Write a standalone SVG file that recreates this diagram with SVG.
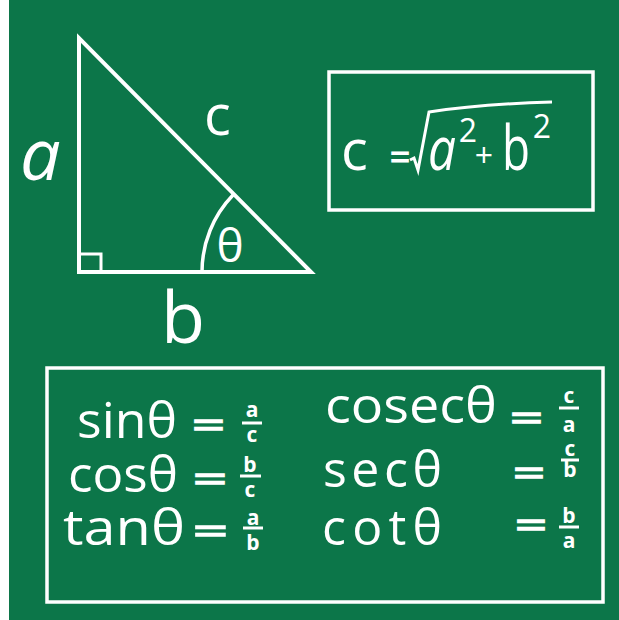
<svg xmlns="http://www.w3.org/2000/svg" width="619" height="620" viewBox="0 0 619 620">
<style>
.ln{fill:none;stroke:#fff;stroke-width:4;stroke-linejoin:miter;stroke-linecap:butt}
.bx{fill:none;stroke:#fff;stroke-width:3.5}
.t{fill:#fff;font-family:"Open Sans","Noto Sans",sans-serif}
.fr{fill:#fff;font-family:"Open Sans","Noto Sans",sans-serif;font-weight:bold;font-size:21px;text-anchor:middle}
.eq{fill:#fff;stroke:#fff;stroke-width:1.6;font-family:"Open Sans","Noto Sans",sans-serif;font-size:38px}
.bar{stroke:#fff;stroke-width:3}
</style>
<rect x="0" y="0" width="619" height="620" fill="#fff"/>
<rect x="9" y="0" width="610" height="620" fill="#0c7649"/>

<g id="triangle">
<polygon class="ln" points="79,38 79,272 311,272"/>
<polyline class="ln" points="80,254 101,254 101,272" style="stroke-width:3"/>
<path class="ln" d="M202,272 A111,111 0 0 1 233,195" style="stroke-width:3.5"/>
<text class="t" x="230" y="262" font-size="46" text-anchor="middle">θ</text>
<text class="t" x="20" y="180" font-size="72" font-style="italic">a</text>
<text class="t" x="204" y="135" font-size="56">c</text>
<text class="t" x="161" y="343" font-size="72">b</text>
</g>

<g id="formula-box">
<rect class="bx" x="329" y="72" width="264" height="138"/>
<text class="t" x="341" y="170" font-size="56">c</text>
<text class="t" x="400" y="170" font-size="36" text-anchor="middle" stroke="#fff" stroke-width="1">=</text>
<path class="ln" d="M410,160 L414,158 L418,170 L429,112 Q480,104 552,102" style="stroke-width:3"/>
<text class="t" x="428" y="170" font-size="60" font-style="italic" textLength="28" lengthAdjust="spacingAndGlyphs">a</text>
<text class="t" x="468" y="142" font-size="32" text-anchor="middle">2</text>
<text class="t" x="484" y="167" font-size="32" text-anchor="middle">+</text>
<text class="t" x="502" y="170" font-size="62" textLength="28" lengthAdjust="spacingAndGlyphs">b</text>
<text class="t" x="542" y="138" font-size="32" text-anchor="middle">2</text>
</g>

<g id="ratios-box">
<rect class="bx" x="47" y="368" width="556" height="234"/>

<text class="t" x="77" y="438" font-size="50" textLength="100" lengthAdjust="spacingAndGlyphs">sinθ</text>
<text class="eq" x="192" y="438" textLength="33" lengthAdjust="spacingAndGlyphs">=</text>
<text class="fr" x="252" y="417">a</text>
<line class="bar" x1="242" y1="423" x2="262" y2="423"/>
<text class="fr" x="252" y="442">c</text>

<text class="t" x="68" y="492" font-size="50" textLength="110" lengthAdjust="spacingAndGlyphs">cosθ</text>
<text class="eq" x="193" y="492" textLength="34" lengthAdjust="spacingAndGlyphs">=</text>
<text class="fr" x="250" y="472" font-size="19">b</text>
<line class="bar" x1="240" y1="476" x2="261" y2="476"/>
<text class="fr" x="250" y="497">c</text>

<text class="t" x="63" y="545" font-size="50" textLength="122" lengthAdjust="spacingAndGlyphs">tanθ</text>
<text class="eq" x="193" y="544" textLength="35" lengthAdjust="spacingAndGlyphs">=</text>
<text class="fr" x="253" y="525">a</text>
<line class="bar" x1="243" y1="528" x2="263" y2="528"/>
<text class="fr" x="253" y="550" font-size="19">b</text>

<text class="t" x="325" y="423" font-size="50" textLength="172" lengthAdjust="spacingAndGlyphs">cosecθ</text>
<text class="eq" x="510" y="431" textLength="33" lengthAdjust="spacingAndGlyphs">=</text>
<text class="fr" x="569" y="403">c</text>
<line class="bar" x1="559" y1="408" x2="579" y2="408"/>
<text class="fr" x="569" y="432">a</text>

<text class="t" x="323" y="487" font-size="50" textLength="119" lengthAdjust="spacing">secθ</text>
<text class="eq" x="513" y="486" textLength="32" lengthAdjust="spacingAndGlyphs">=</text>
<text class="fr" x="570" y="456" font-size="18">c</text>
<line class="bar" x1="561" y1="460" x2="579" y2="460"/>
<text class="fr" x="570" y="477" font-size="16">b</text>

<text class="t" x="322" y="545" font-size="50" textLength="120" lengthAdjust="spacing">cotθ</text>
<text class="eq" x="515" y="538" textLength="32" lengthAdjust="spacingAndGlyphs">=</text>
<text class="fr" x="569" y="523" font-size="19">b</text>
<line class="bar" x1="559" y1="527" x2="579" y2="527"/>
<text class="fr" x="569" y="548">a</text>
</g>
</svg>
